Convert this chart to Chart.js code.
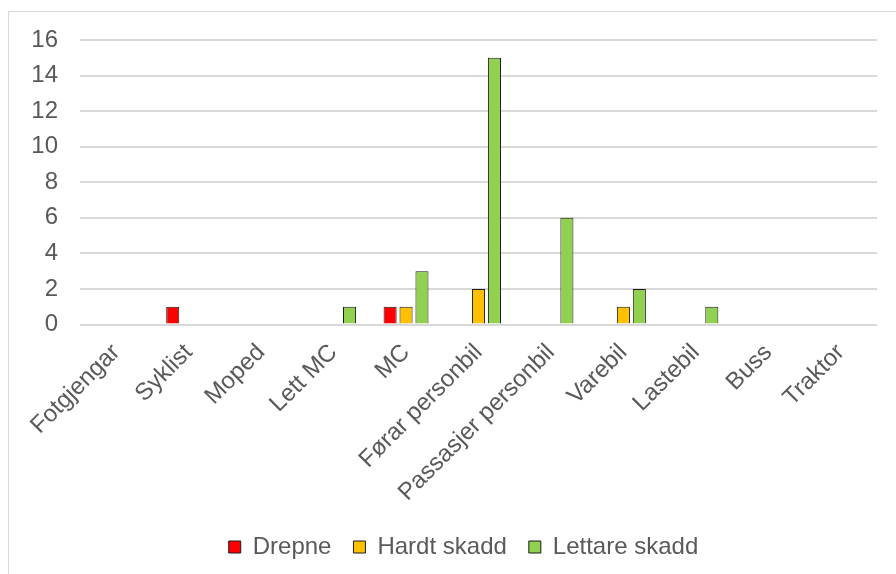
<!DOCTYPE html>
<html>
<head>
<meta charset="utf-8">
<script src="https://cdn.jsdelivr.net/npm/chart.js@4/dist/chart.umd.min.js"></script>
<style>
    html, body { margin: 0; padding: 0; background: #fff; }
    #wrap { position: relative; width: 896px; height: 574px; overflow: hidden; }
    #frame { position: absolute; left: 8px; top: 11px; width: 900px; height: 600px; border: 1px solid #d9d9d9; box-sizing: border-box; }
    #chart { position: absolute; left: 0; top: 0; }
</style>
</head>
<body>
<div id="wrap">
    <div id="frame"></div>
    <canvas id="chart" width="896" height="574"></canvas>
</div>
<script>
const categories = ['Fotgjengar', 'Syklist', 'Moped', 'Lett MC', 'MC', 'Førar personbil',
    'Passasjer personbil', 'Varebil', 'Lastebil', 'Buss', 'Traktor'];
const drepne = [0, 1, 0, 0, 1, 0, 0, 0, 0, 0, 0];
const hardtSkadd = [0, 0, 0, 0, 1, 2, 0, 1, 0, 0, 0];
const lettareSkadd = [0, 0, 0, 1, 3, 15, 6, 2, 1, 0, 0];
const yTicks = [0, 2, 4, 6, 8, 10, 12, 14, 16];

const TEXT_COLOR = '#595959';
const GRID_COLOR = '#d9d9d9';
const FONT = 'Liberation Sans, Arial, sans-serif';

// legend in the original sits a bit right of the canvas centre
const legendShift = {
    id: 'legendShift',
    afterLayout(chart) {
        const lg = chart.legend;
        if (!lg) return;
        lg.left += 25;
        lg.right += 25;
    }
};

const chartConfig = {
    type: 'bar',
    data: {
        labels: categories,
        datasets: [{
            label: 'Drepne',
            data: drepne,
            backgroundColor: '#ff0000',
            borderColor: '#1a1a1a',
            borderWidth: 1
        }, {
            label: 'Hardt skadd',
            data: hardtSkadd,
            backgroundColor: '#ffc000',
            borderColor: '#1a1a1a',
            borderWidth: 1
        }, {
            label: 'Lettare skadd',
            data: lettareSkadd,
            backgroundColor: '#92d050',
            borderColor: '#1a1a1a',
            borderWidth: 1
        }]
    },
    options: {
        responsive: false,
        animation: false,
        categoryPercentage: 0.66,
        barPercentage: 0.82,
        layout: {
            padding: { top: 40, right: 19, bottom: 5, left: 0 }
        },
        scales: {
            x: {
                grid: { display: false },
                border: { display: false },
                ticks: {
                    color: TEXT_COLOR,
                    font: { family: FONT, size: 24 },
                    minRotation: 45,
                    maxRotation: 45,
                    padding: 6
                }
            },
            y: {
                min: 0,
                max: 16,
                afterFit: (scale) => { scale.width = 80; },
                afterBuildTicks: (scale) => { scale.ticks = yTicks.map(v => ({ value: v })); },
                grid: { color: GRID_COLOR, lineWidth: 2, drawTicks: false },
                border: { display: false },
                ticks: {
                    color: TEXT_COLOR,
                    font: { family: FONT, size: 24 },
                    padding: 22
                }
            }
        },
        plugins: {
            legend: {
                display: true,
                position: 'bottom',
                labels: {
                    color: TEXT_COLOR,
                    font: { family: FONT, size: 24 },
                    boxWidth: 12,
                    boxHeight: 12,
                    padding: 22
                }
            },
            tooltip: { enabled: false }
        }
    },
    plugins: [legendShift]
};

const ctx = document.getElementById('chart').getContext('2d');
new Chart(ctx, chartConfig);
</script>
</body>
</html>
